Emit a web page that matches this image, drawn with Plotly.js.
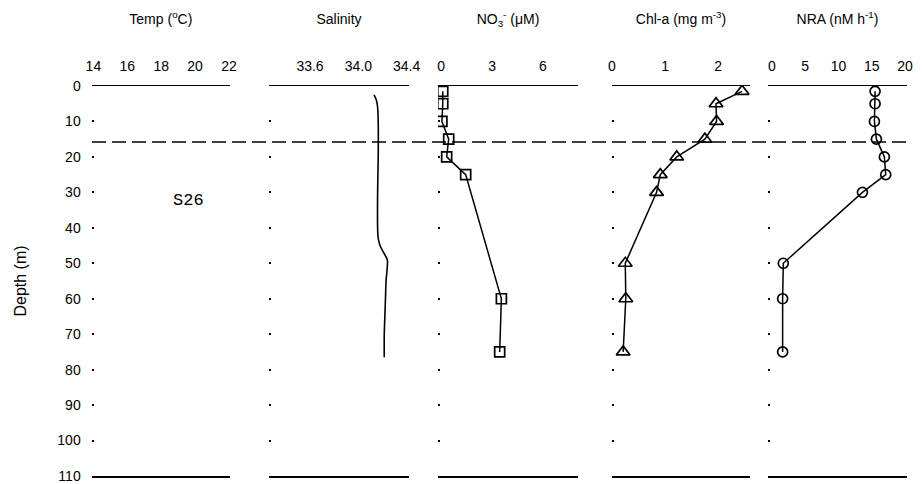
<!DOCTYPE html>
<html>
<head>
<meta charset="utf-8">
<script src="https://cdn.plot.ly/plotly-3.0.1.min.js"></script>
<style>html,body{margin:0;padding:0;background:#fff;}#chart{width:922px;height:484px;}</style>
</head>
<body>
<div id="chart"></div>
<script>
// Salinity profile (continuous CTD trace)
const salDepth = [2.5, 4, 6, 10, 20, 30, 40, 43, 45, 47, 49, 51, 55, 60, 65, 70, 76.5];
const salValue = [34.13, 34.15, 34.16, 34.165, 34.165, 34.16, 34.16, 34.165, 34.18, 34.21, 34.24, 34.24, 34.23, 34.225, 34.22, 34.215, 34.215];

// Nitrate (open squares)
const no3Depth = [1.5, 5, 10, 15, 20, 25, 60, 75];
const no3Value = [0.1, 0.1, 0.05, 0.45, 0.33, 1.45, 3.55, 3.45];

// Chlorophyll-a (open triangles)
const chlDepth = [1.5, 5, 10, 15, 20, 25, 30, 50, 60, 75];
const chlValue = [2.45, 1.96, 1.97, 1.75, 1.22, 0.91, 0.84, 0.25, 0.26, 0.21];

// Nitrate reductase activity (open circles)
const nraDepth = [1.5, 5, 10, 15, 20, 25, 30, 50, 60, 75];
const nraValue = [15.5, 15.5, 15.4, 15.7, 16.9, 17.1, 13.6, 1.7, 1.6, 1.6];

// Mixed-layer depth (dashed line) and station label
const mldDepth = 15.8;
const stationLabel = "S26";

// Axis titles and ticks
const panelTitles = ["Temp (<sup>o</sup>C)", "Salinity", "NO<sub>3</sub><sup>-</sup> (\u03bcM)", "Chl-a (mg m<sup>-3</sup>)", "NRA (nM h<sup>-1</sup>)"];
const tempTicks = [14, 16, 18, 20, 22];
const salTicks = [33.6, 34.0, 34.4];
const salTickText = ["33.6", "34.0", "34.4"];
const no3Ticks = [0, 3, 6];
const chlTicks = [0, 1, 2];
const nraTicks = [0, 5, 10, 15, 20];
const depthTicks = [0, 10, 20, 30, 40, 50, 60, 70, 80, 90, 100, 110];

const W = 922, H = 484;
const px = (a, b) => [a / W, b / W];
const yDom = [1 - 476 / H, 1 - 86 / H];
const FONT = "Liberation Sans, Arial, sans-serif";

const lineStyle = {color: "#000", width: 1.5};
const traces = [
  {x: salValue, y: salDepth, xaxis: "x2", yaxis: "y2", mode: "lines", line: {color: "#000", width: 1.6, shape: "spline"}, hoverinfo: "skip"},
  {x: no3Value, y: no3Depth, xaxis: "x3", yaxis: "y3", mode: "lines+markers", line: lineStyle,
   marker: {symbol: "square-open", size: 10, color: "#000", line: {width: 1.7, color: "#000"}}},
  {x: chlValue, y: chlDepth, xaxis: "x4", yaxis: "y4", mode: "lines+markers", line: lineStyle,
   marker: {symbol: "triangle-up-open", size: 12, color: "#000", line: {width: 1.7, color: "#000"}}},
  {x: nraValue, y: nraDepth, xaxis: "x5", yaxis: "y5", mode: "lines+markers", line: lineStyle,
   marker: {symbol: "circle-open", size: 10, color: "#000", line: {width: 1.7, color: "#000"}}}
];

function xAxis(domain, range, tickvals, ticktext, title, anchor) {
  const ax = {
    domain: domain, range: range, side: "top", anchor: anchor,
    showline: true, mirror: true, linecolor: "#000", linewidth: 1.5,
    showgrid: false, zeroline: false, ticks: "", tickvals: tickvals,
    tickfont: {family: FONT, size: 14, color: "#000"},
    ticklabelstandoff: 8,
    title: {text: title, font: {family: FONT, size: 14, color: "#000"}, standoff: 30}
  };
  if (ticktext) ax.ticktext = ticktext;
  return ax;
}
function yAxis(anchor, main) {
  const ax = {
    domain: yDom, range: [110, 0], anchor: anchor,
    showline: false, showgrid: false, zeroline: false,
    ticks: "inside", ticklen: 2, tickwidth: 2, tickcolor: "#000",
    tickvals: depthTicks, showticklabels: !!main,
    tickfont: {family: FONT, size: 14, color: "#000"},
    ticklabelstandoff: 10
  };
  if (main) {
    ax.title = {text: "Depth (m)", font: {family: FONT, size: 16, color: "#000"}, standoff: 26};
  } else {
    ax.matches = "y";
  }
  return ax;
}

const layout = {
  width: W, height: H,
  margin: {l: 0, r: 0, t: 0, b: 0},
  paper_bgcolor: "#fff", plot_bgcolor: "rgba(0,0,0,0)",
  showlegend: false,
  xaxis: xAxis(px(91.7, 230), [13.9, 22.06], tempTicks, null, panelTitles[0], "y"),
  xaxis2: xAxis(px(269, 409), [33.26, 34.42], salTicks, salTickText, panelTitles[1], "y2"),
  xaxis3: xAxis(px(438, 578), [-0.18, 8.06], no3Ticks, null, panelTitles[2], "y3"),
  xaxis4: xAxis(px(612, 750), [0, 2.6], chlTicks, null, panelTitles[3], "y4"),
  xaxis5: xAxis(px(768, 907), [-0.6, 20.3], nraTicks, null, panelTitles[4], "y5"),
  yaxis: yAxis("x", true),
  yaxis2: yAxis("x2", false),
  yaxis3: yAxis("x3", false),
  yaxis4: yAxis("x4", false),
  yaxis5: yAxis("x5", false),
  shapes: [{
    type: "line", xref: "paper", yref: "y",
    x0: 92 / W, x1: 908 / W, y0: mldDepth, y1: mldDepth,
    line: {color: "#000", width: 1.5, dash: "14px,6px"}
  }],
  annotations: [{
    text: stationLabel, xref: "x", yref: "y", x: 19.6, y: 32.4,
    showarrow: false, font: {family: "Liberation Mono, Courier New, monospace", size: 17, color: "#000"}
  }]
};

Plotly.newPlot("chart", traces, layout, {displayModeBar: false, staticPlot: true});
</script>
</body>
</html>
